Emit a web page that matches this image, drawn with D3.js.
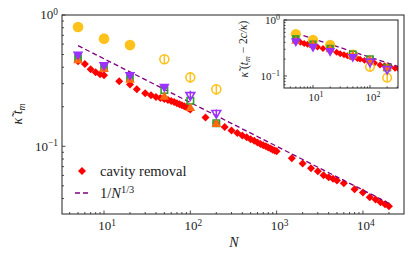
<!DOCTYPE html>
<html>
<head>
<meta charset="utf-8">
<style>
  body { margin: 0; background: #fff; }
  svg text { font-family: "Liberation Serif", "DejaVu Serif", serif; fill: #222; }
</style>
</head>
<body>
<svg width="415" height="261"></svg>
<script src="https://cdn.jsdelivr.net/npm/d3@7"></script>
<script>

// simulation sizes shared by the marker series
var simN = [5, 10, 20, 50, 100, 200];

// main panel: kappa t_m
var yellowMain = [0.81, 0.66, 0.59, 0.46, 0.335, 0.272];
var yellowMainErr = [0, 0, 0.045, 0.035, 0.03, 0.025];
var greenMain = [0.47, 0.40, 0.333, 0.268, 0.222, 0.15];
var orangeMain = [0.45, 0.387, 0.32, 0.238, 0.195, 0.147];
var purpleMain = [0.50, 0.415, 0.349, 0.284, 0.245, 0.179];
var purpleMainErr = [0, 0, 0, 0, 0.02, 0.012];

// cavity removal (main)
var cavN = [5, 6, 7, 8, 9, 10, 15, 20, 24, 30, 35, 40, 45, 50, 55, 60, 65, 70, 75, 80, 85, 90, 95, 100,
            150, 200, 250, 300, 350, 400, 450, 500, 550, 600, 650, 700, 750, 800, 850, 900, 950, 1000,
            1500, 2000, 2500, 3000, 3500, 4000, 4500, 5000, 6000, 8000, 10000, 12000, 14000, 16000, 18000, 20000];
var cavMain = [0.445, 0.423, 0.387, 0.367, 0.354, 0.348, 0.313, 0.295, 0.272, 0.254, 0.245, 0.237, 0.233, 0.229, 0.225, 0.221, 0.217, 0.213, 0.209, 0.205, 0.202, 0.199, 0.195, 0.191,
               0.166, 0.15, 0.14, 0.132, 0.126, 0.121, 0.117, 0.113, 0.110, 0.107, 0.104, 0.102, 0.100, 0.098, 0.096, 0.094, 0.093, 0.0916,
               0.081, 0.0739, 0.068, 0.0646, 0.0601, 0.058, 0.0565, 0.055, 0.0523, 0.047, 0.0445, 0.041, 0.0394, 0.0375, 0.0362, 0.035];

// inset: kappa (t_m - 2c/kappa)
var yellowInset = [0.56, 0.44, 0.358, 0.24, 0.146, 0.093];
var yellowInsetErr = [0, 0, 0, 0, 0.02, 0.016];
var greenInset = [0.46, 0.37, 0.31, 0.244, 0.20, 0.141];
var orangeInset = [0.42, 0.36, 0.30, 0.23, 0.19, 0.138];
var purpleInset = [0.42, 0.334, 0.28, 0.22, 0.18, 0.133];

var cavInsetN = [5, 6, 7, 8, 9, 10, 12, 15, 20, 26, 30, 35, 40, 45, 50, 60, 67, 80, 100, 120, 150, 180, 224, 275, 320];
var cavInset = [0.41, 0.40, 0.38, 0.37, 0.36, 0.35, 0.33, 0.31, 0.285, 0.265, 0.25, 0.24, 0.23, 0.22, 0.215, 0.205, 0.20, 0.19, 0.178, 0.17, 0.157, 0.152, 0.147, 0.137, 0.133];

// guide line 1/N^(1/3)
var guideMainN = [5, 20000];
var guideInsetN = [5, 320];

var svg = d3.select("svg");
svg.append("rect").attr("width", 415).attr("height", 261).attr("fill", "#fff");

var colors = { yellow: "#ffc21a", green: "#2ca02c", orange: "#ff6a10", purple: "#9b30ff", red: "#ff0000", guide: "#800080" };

function powLabel(sel, exp) {
  sel.append("tspan").text("10");
  sel.append("tspan").attr("dy", "-0.45em").style("font-size", "0.72em").text(exp);
}

function drawPanel(g, x, y, opt) {
  var x0 = x.range()[0], x1 = x.range()[1], y0 = y.range()[0], y1 = y.range()[1];

  // ticks (inward, left and bottom)
  function ticks(scale) {
    var d = scale.domain(), out = [];
    for (var e = Math.floor(Math.log10(d[0])); e <= Math.ceil(Math.log10(d[1])); e++) {
      for (var k = 1; k < 10; k++) {
        var v = k * Math.pow(10, e);
        if (v >= d[0] * 0.999 && v <= d[1] * 1.001) out.push({ v: v, major: k === 1, e: e });
      }
    }
    return out;
  }
  ticks(x).forEach(function (t) {
    var len = t.major ? opt.major : opt.minor;
    g.append("line").attr("x1", x(t.v)).attr("x2", x(t.v)).attr("y1", y0).attr("y2", y0 - len)
      .attr("stroke", "#222").attr("stroke-width", 0.8);
    if (t.major) {
      var tx = g.append("text").attr("x", x(t.v) + 3).attr("y", y0 + opt.xlab)
        .attr("text-anchor", "middle").style("font-size", opt.font + "px");
      powLabel(tx, String(t.e));
    }
  });
  ticks(y).forEach(function (t) {
    var len = t.major ? opt.major : opt.minor;
    g.append("line").attr("x1", x0).attr("x2", x0 + len).attr("y1", y(t.v)).attr("y2", y(t.v))
      .attr("stroke", "#222").attr("stroke-width", 0.8);
    if (t.major) {
      var ty = g.append("text").attr("x", x0 - 4).attr("y", y(t.v) + opt.font * 0.33)
        .attr("text-anchor", "end").style("font-size", opt.font + "px");
      powLabel(ty, t.e < 0 ? "\u2212" + (-t.e) : String(t.e));
    }
  });

  var clipId = opt.id + "-clip";
  g.append("clipPath").attr("id", clipId).append("rect")
    .attr("x", x0).attr("y", y1).attr("width", x1 - x0).attr("height", y0 - y1);
  var plot = g.append("g").attr("clip-path", "url(#" + clipId + ")");

  // cavity removal diamonds
  var dia = d3.symbol().type(d3.symbolSquare).size(opt.dia);
  plot.selectAll(".cav").data(opt.cavN).enter().append("path")
    .attr("d", dia)
    .attr("transform", function (n, i) { return "translate(" + x(n) + "," + y(opt.cav[i]) + ") rotate(45)"; })
    .attr("fill", colors.red);

  // guide line
  plot.append("path")
    .attr("d", d3.line().x(function (n) { return x(n); }).y(function (n) { return y(Math.pow(n, -1 / 3)); })(opt.guideN))
    .attr("fill", "none").attr("stroke", colors.guide).attr("stroke-width", 1.3).attr("stroke-dasharray", "5,3");

  function series(vals, errs, shape, size, color, rot, hollowFrom) {
    simN.forEach(function (n, i) {
      var hollow = n >= hollowFrom;
      var sym = d3.symbol().type(shape).size(hollow ? size * 0.7 : size);
      if (errs && errs[i] > 0) {
        plot.append("line").attr("x1", x(n)).attr("x2", x(n))
          .attr("y1", y(vals[i] - errs[i])).attr("y2", y(vals[i] + errs[i]))
          .attr("stroke", color).attr("stroke-width", 1.5);
      }
      plot.append("path").attr("d", sym)
        .attr("transform", "translate(" + x(n) + "," + y(vals[i]) + ")" + (rot ? " rotate(" + rot + ")" : ""))
        .attr("fill", hollow ? "none" : color)
        .attr("stroke", color).attr("stroke-width", hollow ? 1.6 : 0);
    });
  }
  series(opt.yellow, opt.yellowErr, d3.symbolCircle, opt.s * 1.8, colors.yellow, 0, 50);
  series(opt.green, null, d3.symbolSquare, opt.s * 1.2, colors.green, 0, 50);
  series(opt.orange, null, d3.symbolTriangle, opt.s * 0.8, colors.orange, 0, 1e9);
  series(opt.purple, opt.purpleErr, d3.symbolTriangle, opt.s * 0.95, colors.purple, 180, 100);

  // frame
  g.append("rect").attr("x", x0).attr("y", y1).attr("width", x1 - x0).attr("height", y0 - y1)
    .attr("fill", "none").attr("stroke", "#222").attr("stroke-width", 1);
}

// main panel
var xMain = d3.scaleLog().domain([3.26, 29900]).range([62, 404]);
var yMain = d3.scaleLog().domain([0.0305, 1]).range([214, 15]);
var gMain = svg.append("g");
drawPanel(gMain, xMain, yMain, {
  id: "main", major: 3.5, minor: 2, font: 13, xlab: 16, s: 50, dia: 32,
  yellow: yellowMain, yellowErr: yellowMainErr, green: greenMain, orange: orangeMain,
  purple: purpleMain, purpleErr: purpleMainErr, cavN: cavN, cav: cavMain, guideN: guideMainN
});

// inset panel
var xIn = d3.scaleLog().domain([3.1, 310]).range([284, 398]);
var yIn = d3.scaleLog().domain([0.061, 1]).range([88, 20]);
var gIn = svg.append("g");
gIn.append("rect").attr("x", 284).attr("y", 20).attr("width", 114).attr("height", 68).attr("fill", "#fff");
drawPanel(gIn, xIn, yIn, {
  id: "inset", major: 3, minor: 1.6, font: 11, xlab: 13, s: 46, dia: 24,
  yellow: yellowInset, yellowErr: yellowInsetErr, green: greenInset, orange: orangeInset,
  purple: purpleInset, purpleErr: null, cavN: cavInsetN, cav: cavInset, guideN: guideInsetN
});

// axis labels
svg.append("text").attr("x", 234).attr("y", 247).attr("text-anchor", "middle")
  .style("font-size", "14px").style("font-style", "italic").text("N");
var yl = svg.append("text").attr("transform", "translate(22,114) rotate(-90)").attr("text-anchor", "middle")
  .style("font-size", "14px");
yl.append("tspan").style("font-style", "italic").text("\u03BA\u0303 t");
yl.append("tspan").attr("dy", "0.3em").style("font-size", "0.7em").style("font-style", "italic").text("m");

var il = svg.append("text").attr("transform", "translate(248,49) rotate(-90)").attr("text-anchor", "middle")
  .style("font-size", "11.5px");
il.append("tspan").style("font-style", "italic").text("\u03BA\u0303");
il.append("tspan").text(" (");
il.append("tspan").style("font-style", "italic").text("t");
il.append("tspan").attr("dy", "0.3em").style("font-size", "0.7em").style("font-style", "italic").text("m");
il.append("tspan").attr("dy", "-0.3em").text(" \u2212 2");
il.append("tspan").style("font-style", "italic").text("c/\u03BA");
il.append("tspan").text(")");

// legend
var leg = svg.append("g");
leg.append("path").attr("d", d3.symbol().type(d3.symbolSquare).size(32))
  .attr("transform", "translate(82,171) rotate(45)").attr("fill", colors.red);
leg.append("text").attr("x", 100).attr("y", 175.5).style("font-size", "14.5px").text("cavity removal");
leg.append("line").attr("x1", 75).attr("x2", 89).attr("y1", 193).attr("y2", 193)
  .attr("stroke", colors.guide).attr("stroke-width", 1.3).attr("stroke-dasharray", "5,3");
var lt = leg.append("text").attr("x", 100).attr("y", 197.5).style("font-size", "14.5px");
lt.append("tspan").text("1/");
lt.append("tspan").style("font-style", "italic").text("N");
lt.append("tspan").attr("dy", "-0.45em").style("font-size", "0.72em").text("1/3");

</script>
</body>
</html>
